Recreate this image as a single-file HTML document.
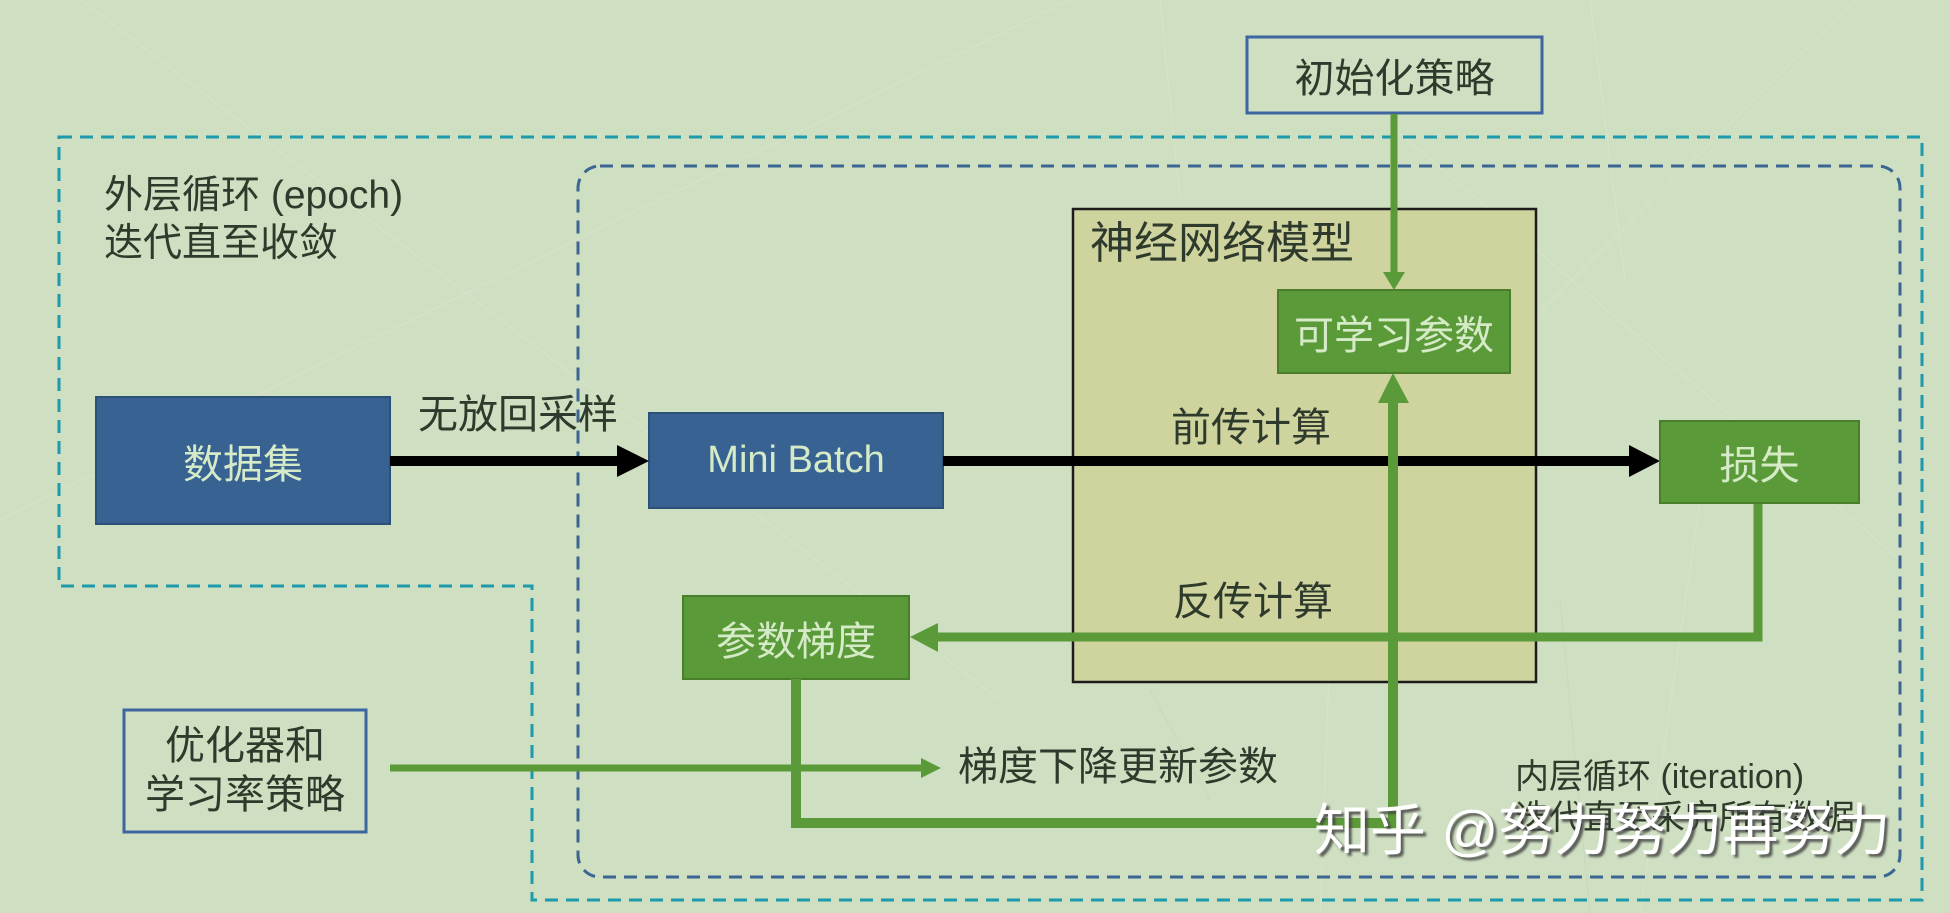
<!DOCTYPE html>
<html>
<head>
<meta charset="utf-8">
<style>
  html, body { margin:0; padding:0; }
  body { width:1949px; height:913px; overflow:hidden; background:#cfdfc1; position:relative; }
  svg { position:absolute; left:0; top:0; }
  .t { position:absolute; white-space:nowrap; font-family:"Liberation Sans","Noto Sans CJK SC",sans-serif; color:#2e3a2b; }
  .box { position:absolute; display:flex; align-items:center; justify-content:center; text-align:center; font-family:"Liberation Sans","Noto Sans CJK SC",sans-serif; white-space:nowrap; }
</style>
</head>
<body>
<svg width="1949" height="913" viewBox="0 0 1949 913">
  <rect x="0" y="0" width="1949" height="913" fill="#cfdfc1"/>
  <!-- faint decorative background lines -->
  <g stroke="#dfe9d5" stroke-width="1.2" fill="none" opacity="0.45">
    <line x1="81" y1="0" x2="1000" y2="700"/>
    <line x1="1070" y1="0" x2="0" y2="520"/>
    <line x1="1855" y1="0" x2="1390" y2="460"/>
    <line x1="1590" y1="0" x2="1625" y2="280"/>
    <line x1="1390" y1="125" x2="1900" y2="560"/>
    <line x1="1340" y1="380" x2="1320" y2="913"/>
    <line x1="1160" y1="0" x2="1180" y2="200"/>
    <line x1="1700" y1="500" x2="1640" y2="913"/>
  </g>
  <g stroke="#c3d3b5" stroke-width="1.2" fill="none" opacity="0.5">
    <line x1="1150" y1="690" x2="1210" y2="800"/>
    <line x1="1560" y1="600" x2="1590" y2="913"/>
  </g>

  <!-- outer teal dashed boundary -->
  <path d="M59,137 H1922 V900 H532 V586 H59 Z" fill="none" stroke="#1d9aac" stroke-width="3" stroke-dasharray="13 8"/>
  <!-- inner dark-blue dashed rounded rect -->
  <rect x="578" y="166" width="1322" height="711" rx="22" ry="22" fill="none" stroke="#3b6592" stroke-width="3" stroke-dasharray="13 8"/>

  <!-- neural network model box -->
  <rect x="1073" y="209" width="463" height="473" fill="#cfd49f" stroke="#1c1c1c" stroke-width="2.5"/>

  <!-- blue boxes -->
  <rect x="96" y="397" width="294" height="127" fill="#386291" stroke="#2c5078" stroke-width="2"/>
  <rect x="649" y="413" width="294" height="95" fill="#386291" stroke="#2c5078" stroke-width="2"/>

  <!-- outlined boxes -->
  <rect x="1247" y="37" width="295" height="76" fill="none" stroke="#3d66a0" stroke-width="3"/>
  <rect x="124" y="710" width="242" height="122" fill="none" stroke="#3d66a0" stroke-width="3"/>

  <!-- black forward arrows -->
  <line x1="390" y1="461" x2="622" y2="461" stroke="#000" stroke-width="10"/>
  <polygon points="617,445 649,461 617,477" fill="#000"/>
  <line x1="943" y1="461" x2="1634" y2="461" stroke="#000" stroke-width="10"/>
  <polygon points="1629,445 1660,461 1629,477" fill="#000"/>

  <!-- green boxes -->
  <rect x="1660" y="421" width="199" height="82" fill="#5b9a38" stroke="#4a7e2c" stroke-width="2"/>
  <rect x="1278" y="290" width="232" height="83" fill="#5b9a38" stroke="#4a7e2c" stroke-width="2"/>
  <rect x="683" y="596" width="226" height="83" fill="#5b9a38" stroke="#4a7e2c" stroke-width="2"/>

  <!-- green connectors -->
  <g fill="none" stroke="#5b9a38" stroke-linejoin="miter" stroke-linecap="butt">
    <line x1="1394" y1="114" x2="1394" y2="274" stroke-width="7"/>
    <line x1="390" y1="768" x2="923" y2="768" stroke-width="7"/>
    <polyline points="1758,504 1758,637 936,637" stroke-width="9"/>
    <polyline points="796,679 796,823 1393,823 1393,400" stroke-width="10"/>
  </g>
  <g fill="#5b9a38">
    <polygon points="1383,272 1405,272 1394,290"/>
    <polygon points="921,758 921,778 941,768"/>
    <polygon points="938,623 938,652 910,637"/>
    <polygon points="1378,403 1409,403 1393,373"/>
  </g>
</svg>

<!-- box labels -->
<div class="box" style="left:96px;top:397px;width:294px;height:127px;font-size:40px;color:#d5eac7;">数据集</div>
<div class="box" style="left:649px;top:413px;width:294px;height:95px;font-size:38px;color:#d5eac7;">Mini Batch</div>
<div class="box" style="left:1660px;top:421px;width:199px;height:82px;font-size:40px;color:#d5eac7;">损失</div>
<div class="box" style="left:1278px;top:290px;width:232px;height:83px;font-size:40px;color:#d5eac7;">可学习参数</div>
<div class="box" style="left:683px;top:596px;width:226px;height:83px;font-size:40px;color:#d5eac7;">参数梯度</div>
<div class="box" style="left:1247px;top:37px;width:295px;height:76px;font-size:40px;color:#2e3a2b;">初始化策略</div>
<div class="box" style="left:124px;top:710px;width:242px;height:122px;font-size:40px;line-height:49px;color:#2e3a2b;">优化器和<br>学习率策略</div>

<!-- free labels -->
<div class="t" style="left:104px;top:172px;font-size:39px;line-height:48px;">外层循环 (epoch)<br>迭代直至收敛</div>
<div class="t" style="left:418px;top:395px;font-size:40px;line-height:40px;">无放回采样</div>
<div class="t" style="left:1090px;top:222px;font-size:44px;line-height:44px;">神经网络模型</div>
<div class="t" style="left:1171px;top:408px;font-size:40px;line-height:40px;">前传计算</div>
<div class="t" style="left:1173px;top:582px;font-size:40px;line-height:40px;">反传计算</div>
<div class="t" style="left:958px;top:747px;font-size:40px;line-height:40px;">梯度下降更新参数</div>
<div class="t" style="left:1515px;top:757px;font-size:34px;line-height:41px;">内层循环 (iteration)<br>迭代直至采完所有数据</div>

<!-- watermark -->
<div class="t" style="left:1314px;top:803px;font-size:56px;line-height:56px;color:#ffffff;text-shadow:3px 3px 2px rgba(70,70,70,0.85);">知乎 @努力努力再努力</div>
</body>
</html>
